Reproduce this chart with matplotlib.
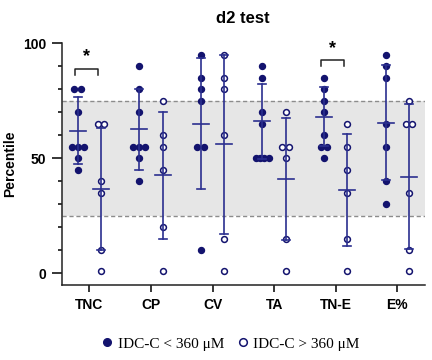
import numpy as np
import matplotlib
matplotlib.use("Agg")
import matplotlib.pyplot as plt
from matplotlib.lines import Line2D

# categories and values
categories = ["TNC", "CP", "CV", "TA", "TN-E", "E%"]

low_points = [
    [80, 80, 70, 55, 55, 55, 50, 45],
    [90, 80, 70, 55, 55, 55, 50, 40],
    [95, 85, 80, 75, 55, 55, 10],
    [90, 85, 70, 65, 50, 50, 50, 50],
    [85, 80, 75, 70, 60, 55, 55, 50],
    [95, 90, 85, 65, 55, 40, 30],
]
high_points = [
    [65, 65, 40, 35, 10, 1],
    [75, 60, 55, 45, 20, 1],
    [95, 85, 80, 60, 15, 1],
    [70, 55, 55, 50, 15, 1],
    [65, 55, 45, 35, 15, 1],
    [75, 65, 65, 35, 10, 1],
]

# mean +/- SD as drawn
low_mean = [62, 62.5, 65, 66, 68, 65.5]
low_sd = [14.5, 17.5, 28.5, 16.5, 12.8, 25]
high_mean = [36.5, 42.5, 56, 41, 36, 42]
high_sd = [26.5, 27.5, 39, 26.5, 24.4, 31.7]

# significance brackets: category index, bracket height
sig_idx = [0, 4]
sig_height = [89, 92.7]

band_low, band_high = 25, 75

navy = "#13136e"
bar_col = "#2b2f8f"

plt.rcParams["font.family"] = ["Liberation Sans", "DejaVu Sans"]

fig = plt.figure(figsize=(4.32, 3.6), dpi=100)
ax = fig.add_axes([0.1428, 0.2083, 0.841, 0.6714])

ax.axhspan(band_low, band_high, color="#e6e6e6", zorder=0, lw=0)
ax.axhline(band_low, color="#8c8c8c", ls=(0, (3, 2)), lw=1, zorder=1)
ax.axhline(band_high, color="#8c8c8c", ls=(0, (3, 2)), lw=1, zorder=1)


def swarm_x(center, values):
    # spread identical values side by side
    xs = []
    vals = np.array(values)
    done = {}
    for v in vals:
        n = int((vals == v).sum())
        k = done.get(v, 0)
        done[v] = k + 1
        step = min(0.11, 0.2 / max(n - 1, 1))
        xs.append(center + (k - (n - 1) / 2) * step)
    return xs


off = 0.19
for i in range(len(categories)):
    for pts, mean, sd, dx, face in [
        (low_points[i], low_mean[i], low_sd[i], -off, navy),
        (high_points[i], high_mean[i], high_sd[i], off, "white"),
    ]:
        c = i + dx
        ax.plot(swarm_x(c, pts), pts, "o", ms=4.2, mfc=face, mec=navy,
                mew=1.1, ls="none", zorder=3)
        ax.plot([c, c], [mean - sd, mean + sd], color=bar_col, lw=1.2, zorder=4)
        for y in (mean - sd, mean + sd):
            ax.plot([c - 0.065, c + 0.065], [y, y], color=bar_col, lw=1.2, zorder=4)
        ax.plot([c - 0.13, c + 0.13], [mean, mean], color=bar_col, lw=1.2, zorder=4)

for i, h in zip(sig_idx, sig_height):
    x0, x1 = i - off - 0.05, i + off - 0.05
    ax.plot([x0, x0, x1, x1], [h - 2.6, h, h, h - 2.6], color="#222222", lw=1.1)
    ax.text((x0 + x1) / 2, h + 1.5, "*", ha="center", va="bottom",
            fontsize=13, fontweight="bold")

ax.set_xlim(-0.45, 5.45)
ax.set_ylim(-5.2, 100)
ax.set_xticks(range(len(categories)))
ax.set_xticklabels(categories, fontsize=10, fontweight="bold")
ax.set_yticks([0, 50, 100])
ax.set_yticklabels(["0", "50", "100"], fontsize=10, fontweight="bold")
ax.set_yticks(np.arange(0, 101, 10), minor=True)
ax.tick_params(axis="y", which="major", length=7, width=1.1, pad=4)
ax.tick_params(axis="y", which="minor", length=3, width=1.1)
ax.tick_params(axis="x", length=5, width=1.1, pad=4)
for s in ["top", "right"]:
    ax.spines[s].set_visible(False)
for s in ["left", "bottom"]:
    ax.spines[s].set_linewidth(1.1)
    ax.spines[s].set_color("#222222")
ax.spines["left"].set_bounds(-5.2, 100)

ax.set_ylabel("Percentile", fontsize=10, fontweight="bold")
ax.yaxis.set_label_coords(-0.122, 0.5)
fig.text(0.5625, 0.97, "d2 test", ha="center", va="top", fontsize=12,
         fontweight="bold")

handles = [
    Line2D([], [], marker="o", ls="none", ms=5.5, mfc=navy, mec=navy),
    Line2D([], [], marker="o", ls="none", ms=5.5, mfc="white", mec=navy, mew=1.1),
]
fig.legend(handles, ["IDC-C < 360 \u03bcM", "IDC-C > 360 \u03bcM"], ncol=2,
           loc="center", bbox_to_anchor=(0.53, 0.045), frameon=False,
           prop={"family": "Liberation Serif", "size": 11},
           handletextpad=0.1, columnspacing=0.6, handlelength=1.2)

fig.savefig("out.png", dpi=100)
